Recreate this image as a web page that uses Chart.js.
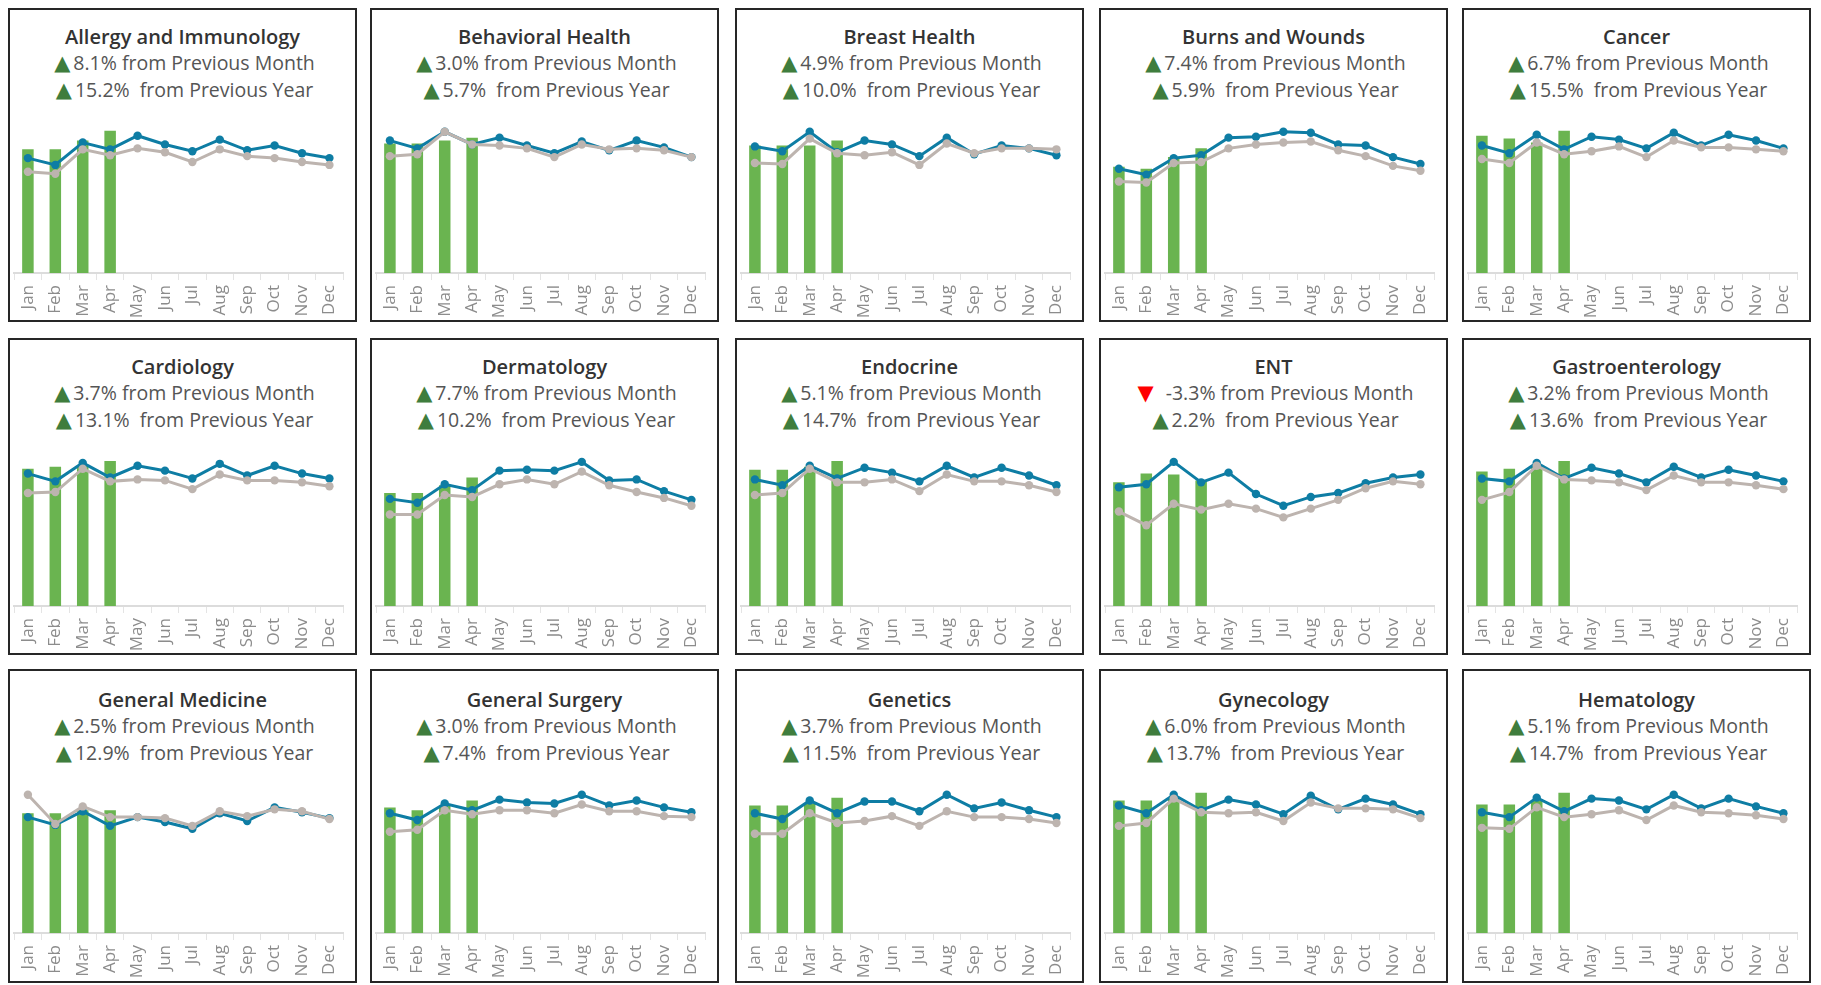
<!DOCTYPE html>
<html><head><meta charset="utf-8">
<script src="https://cdn.jsdelivr.net/npm/chart.js@4.4.1/dist/chart.umd.min.js"></script>
<style>
html,body{margin:0;padding:0;background:#fff;width:1821px;height:985px;overflow:hidden;}
.panel{position:absolute;box-sizing:border-box;border:2px solid #262626;background:#fff;}
.txt{position:absolute;left:0;right:0;text-align:center;font-family:"Open Sans",sans-serif;white-space:pre;line-height:26px;height:26px;}
.title{font-weight:600;font-size:20px;color:#333;}
.sub{font-size:19.5px;color:#555;padding-left:4px;}
.up,.down{font-family:"DejaVu Sans",sans-serif;font-size:21px;display:inline-block;margin-right:3px;}
.up{color:#3f7d3d;}
.down{color:#ff0000;margin-right:12px;}
canvas{position:absolute;left:0;}
</style></head>
<body>
<script>
const months = ['Jan','Feb','Mar','Apr','May','Jun','Jul','Aug','Sep','Oct','Nov','Dec'];
const departments = ['Allergy and Immunology','Behavioral Health','Breast Health','Burns and Wounds','Cancer',
  'Cardiology','Dermatology','Endocrine','ENT','Gastroenterology',
  'General Medicine','General Surgery','Genetics','Gynecology','Hematology'];
const momChange = [8.1,3.0,4.9,7.4,6.7,3.7,7.7,5.1,-3.3,3.2,2.5,3.0,3.7,6.0,5.1];
const yoyChange = [15.2,5.7,10.0,5.9,15.5,13.1,10.2,14.7,2.2,13.6,12.9,7.4,11.5,13.7,14.7];

// Current year (Jan–Apr), index units
const currentYear = [
  [127,127,136,146],[133,133,136,139],[131,131,131,136],[109,107,119,128],[141,138,134,146],
  [141,143,144,149],[116,116,124,132],[140,140,143,149],[127,136,135,129],[138,141,144,149],
  [123,123,126,126],[129,126,131,136],[131,131,133,139],[136,136,139,144],[132,132,136,144]
];
// Forecast (blue line)
const forecast = [
  [118,111,134,127,141,132,125,137,126,131,123,118],
  [136,128,145,132,139,131,123,135,126,136,129,119],
  [130,125,145,124,136,132,120,139,122,131,128,121],
  [107,101,118,121,139,140,145,144,132,131,119,112],
  [131,123,142,127,140,137,128,144,131,142,136,128],
  [136,128,147,132,144,139,131,146,134,144,136,131],
  [110,106,125,119,139,140,139,148,129,130,118,109],
  [130,124,144,131,142,137,128,144,132,142,134,124],
  [122,125,148,127,137,115,103,112,116,126,132,135],
  [131,128,147,131,142,136,127,143,132,140,134,128],
  [119,111,125,110,119,114,107,123,115,129,124,118],
  [123,116,133,126,137,134,133,142,131,136,129,124],
  [123,117,136,123,135,135,125,142,128,134,126,119],
  [131,123,142,126,137,132,122,141,127,138,132,122],
  [124,119,139,125,138,136,127,142,128,138,130,123]
];
// Previous year (gray line)
const priorYear = [
  [104,102,127,121,128,124,114,127,120,118,114,111],
  [120,122,145,132,131,128,119,132,127,128,126,119],
  [113,112,138,123,121,124,111,133,123,128,128,127],
  [94,93,113,114,128,132,134,135,126,120,110,105],
  [117,113,134,122,125,130,119,136,129,129,127,125],
  [116,117,141,128,130,129,120,135,129,129,127,123],
  [94,94,114,112,125,130,125,138,124,117,111,103],
  [114,116,141,127,127,130,118,135,128,128,124,117],
  [97,83,105,99,105,100,91,100,109,121,128,125],
  [109,117,144,130,129,127,119,134,127,127,124,120],
  [142,112,130,119,119,118,110,125,120,127,125,117],
  [104,106,126,122,126,126,123,132,125,125,120,119],
  [102,102,123,113,115,120,110,125,119,119,117,113],
  [110,113,138,124,123,124,115,134,128,128,127,118],
  [108,107,129,119,122,126,116,131,124,123,121,117]
];

const COLS = [8,370,735,1099,1462], PW = 349;
const ROWS = [{top:8,h:314,base:273,tx:0},{top:338,h:317,base:606,tx:0},{top:669,h:314,base:933,tx:2}];
const PLOT_H = 160, YMAX = 160;
const GREEN = '#6ab450', BLUE = '#0e7da4', GRAY = '#bdb4af';

function fmt(v){ return v.toFixed(1) + '%'; }
function arrow(v){ return v >= 0 ? '<span class="up">\u25B2</span>' : '<span class="down">\u25BC</span>'; }

departments.forEach((name, i) => {
  const r = ROWS[Math.floor(i/5)], x = COLS[i%5];
  const p = document.createElement('div');
  p.className = 'panel';
  Object.assign(p.style, {left:x+'px', top:r.top+'px', width:PW+'px', height:r.h+'px'});
  const t = document.createElement('div'); t.className='txt title'; t.style.top=(14+r.tx)+'px'; t.textContent = name; p.appendChild(t);
  const s1 = document.createElement('div'); s1.className='txt sub'; s1.style.top=(40+r.tx)+'px';
  s1.innerHTML = arrow(momChange[i]) + fmt(momChange[i]) + ' from Previous Month'; p.appendChild(s1);
  const s2 = document.createElement('div'); s2.className='txt sub'; s2.style.top=(67+r.tx)+'px';
  s2.innerHTML = arrow(yoyChange[i]) + fmt(yoyChange[i]) + '  from Previous Year'; p.appendChild(s2);

  const cTop = r.base - PLOT_H - (r.top + 2);
  const cH = r.h - 4 - cTop;
  const cv = document.createElement('canvas');
  cv.width = PW - 4; cv.height = cH;
  cv.style.top = cTop + 'px'; cv.style.width = (PW-4)+'px'; cv.style.height = cH+'px';
  p.appendChild(cv);
  document.body.appendChild(p);
  const xH = cH - PLOT_H;

  const barData = months.map((m, k) => k < currentYear[i].length ? currentYear[i][k] : null);
  const chart = new Chart(cv.getContext('2d'), {
    type: 'bar',
    data: {
      labels: months,
      datasets: [
        {type:'line', label:'Previous Year', data: priorYear[i], borderColor: GRAY, backgroundColor: GRAY,
         pointBackgroundColor: GRAY, pointBorderWidth: 0, pointRadius: 4.2, borderWidth: 3, order: 1, tension: 0},
        {type:'line', label:'Forecast', data: forecast[i], borderColor: BLUE, backgroundColor: BLUE,
         pointBackgroundColor: BLUE, pointBorderWidth: 0, pointRadius: 4.2, borderWidth: 3, order: 2, tension: 0},
        {type:'bar', label:'Current Year', data: barData, backgroundColor: GREEN, borderWidth: 0,
         barPercentage: 0.42, categoryPercentage: 1, order: 3}
      ]
    },
    options: {
      responsive: false, animation: false, devicePixelRatio: 1,
      layout: {padding: {left: 2, right: 1, top: 0, bottom: 0}},
      plugins: {legend: {display: false}, tooltip: {enabled: false}, title: {display: false}},
      scales: {
        y: {display: false, min: 0, max: YMAX},
        x: {
          afterFit(scale){ scale.height = xH; },
          grid: {display: true, offset: true, drawOnChartArea: false, drawTicks: true, tickLength: 7, color: '#e4e4e4', lineWidth: 1},
          border: {display: true, color: '#dcdcdc', width: 2},
          ticks: {autoSkip: false, minRotation: 90, maxRotation: 90, padding: 5, color: '#8c8c8c',
                  font: {family: '"Open Sans", sans-serif', size: 17}}
        }
      }
    }
  });
  // keep the plot bottom exactly on the row baseline
  const a = chart.chartArea;
  const shift = (r.base - (r.top + 2)) - (cTop + a.bottom);
  if (Math.abs(shift) > 0.2) cv.style.top = (cTop + shift) + 'px';
});
</script>
</body></html>
